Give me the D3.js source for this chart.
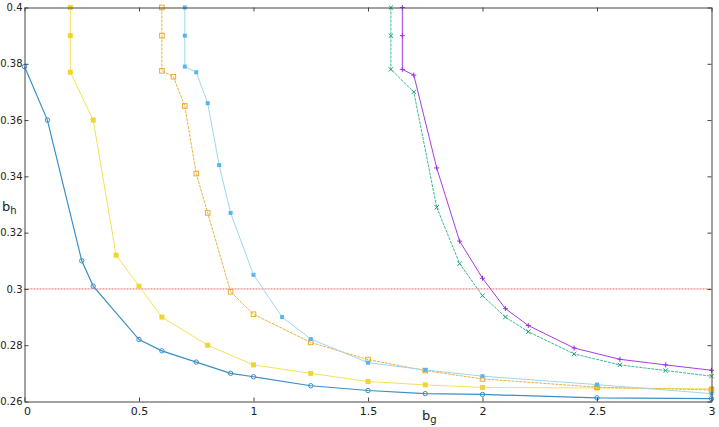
<!DOCTYPE html>
<html>

<head>
    <meta charset="utf-8" />
    <title>b_h vs b_g</title>
    <style>
        body { margin: 0; background: #fff; }
        text { font-family: "DejaVu Sans", sans-serif; font-size: 11px; fill: #222; }
    </style>
</head>

<body>
    <svg width=719 height=427></svg>
</body>

<script src="https://cdn.jsdelivr.net/npm/d3@7"></script>
<script>

    // series
    var x1 = [0, 0.1, 0.25, 0.3, 0.5, 0.6, 0.75, 0.9, 1, 1.25, 1.5, 1.75, 2, 2.5, 3];
    var y1 = [0.379, 0.360, 0.310, 0.301, 0.282, 0.278, 0.274, 0.270, 0.2688, 0.2656, 0.2639, 0.2628, 0.2625, 0.2613, 0.2610];

    var x2 = [0.2, 0.2, 0.2, 0.3, 0.4, 0.5, 0.6, 0.8, 1, 1.25, 1.5, 1.75, 2, 2.5, 3];
    var y2 = [0.400, 0.390, 0.377, 0.360, 0.312, 0.301, 0.290, 0.280, 0.273, 0.270, 0.2671, 0.2659, 0.2650, 0.2648, 0.2645];

    var x3 = [0.6, 0.6, 0.6, 0.65, 0.7, 0.75, 0.8, 0.9, 1, 1.25, 1.5, 1.75, 2, 2.5, 3];
    var y3 = [0.400, 0.390, 0.3775, 0.3754, 0.365, 0.341, 0.327, 0.299, 0.291, 0.281, 0.2749, 0.271, 0.268, 0.2651, 0.2641];

    var x4 = [0.7, 0.7, 0.7, 0.75, 0.8, 0.85, 0.9, 1, 1.125, 1.25, 1.5, 1.75, 2, 2.5, 3];
    var y4 = [0.400, 0.390, 0.379, 0.377, 0.366, 0.344, 0.327, 0.305, 0.290, 0.2822, 0.2738, 0.2712, 0.269, 0.266, 0.2628];

    var x5 = [1.6, 1.6, 1.6, 1.7, 1.8, 1.9, 2.0, 2.1, 2.2, 2.4, 2.6, 2.8, 3];
    var y5 = [0.400, 0.390, 0.378, 0.370, 0.329, 0.309, 0.2976, 0.290, 0.2848, 0.2769, 0.273, 0.271, 0.269];

    var x6 = [1.65, 1.65, 1.65, 1.7, 1.8, 1.9, 2.0, 2.1, 2.2, 2.4, 2.6, 2.8, 3];
    var y6 = [0.400, 0.390, 0.378, 0.376, 0.343, 0.317, 0.3038, 0.293, 0.287, 0.279, 0.275, 0.273, 0.2711];

    var refLine = 0.3;

    var xTicks = [0, 0.5, 1, 1.5, 2, 2.5, 3];
    var xTickLabels = ['0', '0.5', '1', '1.5', '2', '2.5', '3'];
    var yTicks = [0.26, 0.28, 0.3, 0.32, 0.34, 0.36, 0.38, 0.4];
    var yTickLabels = ['0.26', '0.28', '0.3', '0.32', '0.34', '0.36', '0.38', '0.4'];

    var series = [
        { xs: x1, ys: y1, line: '#3a8fc9', mark: '#3a8fc9', shape: 'circle', width: 1.2, dash: null },
        { xs: x2, ys: y2, line: '#f3e25a', mark: '#eed62a', shape: 'fsquare', width: 1, dash: null },
        { xs: x3, ys: y3, line: '#ebb13c', mark: '#eaaa30', shape: 'osquare', width: 1, dash: '3,1' },
        { xs: x4, ys: y4, line: '#9fd6f2', mark: '#55b8ec', shape: 'star', width: 1, dash: null },
        { xs: x5, ys: y5, line: '#3cb894', mark: '#1f9f7a', shape: 'cross', width: 1, dash: '3,1' },
        { xs: x6, ys: y6, line: '#a63de3', mark: '#9a2fdc', shape: 'plus', width: 1, dash: null }
    ];

    var padL = 24.5, padR = 711.5, padT = 7.5, padB = 401.5;

    var x = d3.scaleLinear().domain([0, 3]).range([padL, padR]);
    var y = d3.scaleLinear().domain([0.26, 0.4]).range([padB, padT]);

    var svg = d3.select('svg');

    // reference line
    svg.append('line')
        .attr('x1', x(0)).attr('x2', x(3))
        .attr('y1', y(refLine)).attr('y2', y(refLine))
        .attr('stroke', '#e04848')
        .attr('stroke-width', 0.8)
        .attr('stroke-dasharray', '2,1');

    var line = d3.line()
        .x(function (d) { return x(d[0]); })
        .y(function (d) { return y(d[1]); });

    series.forEach(function (s) {
        var pts = s.xs.map(function (v, i) { return [v, s.ys[i]]; });

        svg.append('path')
            .attr('d', line(pts))
            .attr('fill', 'none')
            .attr('stroke', s.line)
            .attr('stroke-width', s.width)
            .attr('stroke-dasharray', s.dash);

        var g = svg.append('g');
        pts.forEach(function (p) {
            var cx = x(p[0]), cy = y(p[1]);
            if (s.shape === 'circle') {
                g.append('circle').attr('cx', cx).attr('cy', cy).attr('r', 2.2)
                    .attr('fill', 'none').attr('stroke', s.mark).attr('stroke-width', 1);
            } else if (s.shape === 'fsquare') {
                g.append('rect').attr('x', cx - 2.5).attr('y', cy - 2.5)
                    .attr('width', 5).attr('height', 5).attr('fill', s.mark);
            } else if (s.shape === 'osquare') {
                g.append('rect').attr('x', cx - 2.3).attr('y', cy - 2.3)
                    .attr('width', 4.6).attr('height', 4.6)
                    .attr('fill', 'none').attr('stroke', s.mark).attr('stroke-width', 1);
            } else if (s.shape === 'star') {
                g.append('rect').attr('x', cx - 2).attr('y', cy - 2)
                    .attr('width', 4).attr('height', 4).attr('fill', s.mark);
            } else if (s.shape === 'cross') {
                g.append('path')
                    .attr('d', 'M' + (cx - 2.2) + ',' + (cy - 2.2) + 'L' + (cx + 2.2) + ',' + (cy + 2.2) +
                        'M' + (cx - 2.2) + ',' + (cy + 2.2) + 'L' + (cx + 2.2) + ',' + (cy - 2.2))
                    .attr('stroke', s.mark).attr('stroke-width', 1);
            } else {
                g.append('path')
                    .attr('d', 'M' + (cx - 2.5) + ',' + cy + 'L' + (cx + 2.5) + ',' + cy +
                        'M' + cx + ',' + (cy - 2.5) + 'L' + cx + ',' + (cy + 2.5))
                    .attr('stroke', s.mark).attr('stroke-width', 1);
            }
        });
    });

    // axes, ticks on all four sides pointing inward
    var xb = d3.axisBottom(x).tickValues(xTicks).tickSizeInner(-4).tickSizeOuter(0)
        .tickFormat(function (d, i) { return xTickLabels[i]; }).tickPadding(6);
    var xt = d3.axisTop(x).tickValues(xTicks).tickSizeInner(-4).tickSizeOuter(0).tickFormat('');
    var yl = d3.axisLeft(y).tickValues(yTicks).tickSizeInner(-4).tickSizeOuter(0)
        .tickFormat(function (d, i) { return yTickLabels[i]; }).tickPadding(2);
    var yr = d3.axisRight(y).tickValues(yTicks).tickSizeInner(-4).tickSizeOuter(0).tickFormat('');

    var gxb = svg.append('g').attr('transform', 'translate(0,' + padB + ')').call(xb);
    svg.append('g').attr('transform', 'translate(0,' + padT + ')').call(xt);
    var gyl = svg.append('g').attr('transform', 'translate(' + padL + ',0)').call(yl);
    svg.append('g').attr('transform', 'translate(' + padR + ',0)').call(yr);

    svg.selectAll('.domain').attr('stroke', '#444').attr('stroke-width', 1);
    svg.selectAll('.tick line').attr('stroke', '#444');
    svg.selectAll('.tick text')
        .style('font-family', '"DejaVu Sans", sans-serif')
        .style('font-size', '11px')
        .attr('fill', '#222');
    gyl.selectAll('.tick text').style('font-size', '10px');

    // keep the first x label inside the frame
    gxb.selectAll('.tick text').filter(function (d) { return d === 0; })
        .attr('text-anchor', 'start').attr('x', -1);

    // axis titles
    var bh = svg.append('text').attr('x', 2).attr('y', 211);
    bh.append('tspan').style('font-size', '13px').text('b');
    bh.append('tspan').attr('dy', 3).style('font-size', '10px').text('h');

    var bg = svg.append('text').attr('x', 422).attr('y', 420);
    bg.append('tspan').style('font-size', '13px').text('b');
    bg.append('tspan').attr('dy', 3).style('font-size', '10px').text('g');

</script>
</html>
